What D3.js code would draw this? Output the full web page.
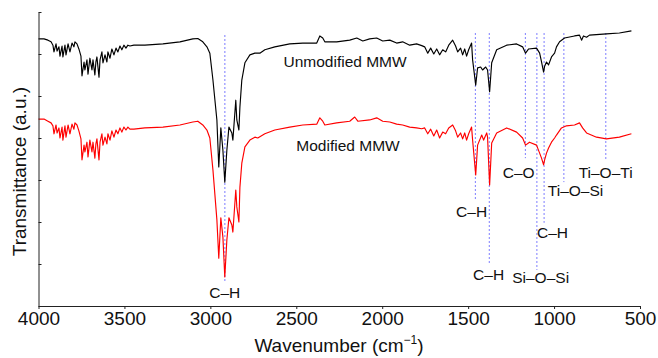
<!DOCTYPE html>
<html>
<head>
<meta charset="utf-8">
<script src="https://cdn.jsdelivr.net/npm/d3@7"></script>
<style>
  body { margin: 0; background: #fff; }
  text { font-family: "Liberation Sans", Arial, sans-serif; fill: #111; }
</style>
</head>
<body>
<svg id="chart" width="658" height="358"></svg>
<script>
// spectra: [wavenumber cm-1, transmittance a.u.]
const unmodified = [
  [4000, 63.6], [3968, 63.6], [3945, 63.3], [3927, 62.9], [3916, 62.1], [3910, 60.5], [3898, 62.4],
  [3892, 60.7], [3881, 61.7], [3875, 59.5], [3863, 61.9], [3858, 59.3], [3846, 62.1], [3840, 59.8],
  [3828, 62.4], [3817, 60.5], [3805, 62.6], [3794, 61.7], [3788, 62.9], [3776, 62.4], [3765, 61.2],
  [3753, 59.5], [3747, 54.8], [3735, 58.1], [3730, 56.2], [3718, 58.6], [3712, 55.2], [3701, 59.0],
  [3689, 56.2], [3683, 58.6], [3672, 55.0], [3666, 58.1], [3660, 59.3], [3648, 54.5], [3642, 58.6],
  [3631, 60.5], [3625, 57.9], [3613, 59.8], [3602, 58.1], [3596, 60.5], [3584, 59.0], [3573, 61.2],
  [3561, 59.8], [3549, 61.4], [3538, 60.5], [3526, 61.9], [3515, 61.0], [3503, 62.1], [3491, 61.4],
  [3480, 62.1], [3468, 61.9], [3445, 62.1], [3381, 62.1], [3276, 62.4], [3177, 62.9], [3102, 63.6],
  [3073, 63.7], [3044, 62.9], [3020, 61.7], [3003, 60.2], [2985, 53.8], [2962, 44.3], [2951, 33.1],
  [2939, 42.4], [2927, 37.1], [2916, 29.5], [2904, 37.1], [2892, 42.6], [2875, 41.2], [2869, 39.5],
  [2852, 49.0], [2846, 44.3], [2834, 41.9], [2828, 47.4], [2817, 53.8], [2799, 57.9], [2770, 59.8],
  [2741, 60.2], [2712, 60.2], [2683, 61.0], [2625, 61.7], [2538, 62.4], [2462, 62.6], [2381, 62.6],
  [2363, 64.3], [2346, 63.8], [2334, 62.9], [2265, 62.9], [2189, 63.3], [2148, 63.8], [2113, 63.1],
  [2073, 63.6], [2032, 63.8], [1997, 63.1], [1956, 63.3], [1916, 62.6], [1881, 62.9], [1840, 62.1],
  [1800, 62.4], [1770, 62.0], [1753, 61.7], [1735, 60.2], [1718, 61.4], [1700, 60.0], [1683, 61.2],
  [1666, 59.8], [1648, 61.0], [1631, 60.5], [1613, 62.1], [1590, 63.3], [1573, 61.9], [1561, 60.5],
  [1544, 61.4], [1532, 59.8], [1520, 61.2], [1509, 59.5], [1497, 61.0], [1480, 62.6], [1474, 58.6],
  [1456, 52.6], [1445, 56.7],
  [1427, 56.9], [1416, 56.2], [1398, 56.9], [1387, 56.2], [1375, 51.0], [1363, 57.9], [1334, 61.0],
  [1276, 62.1], [1218, 62.4], [1183, 61.7], [1166, 60.2], [1148, 61.2], [1102, 61.4], [1084, 60.2],
  [1073, 58.1], [1061, 55.7], [1055, 57.1], [1044, 58.1], [1032, 57.4], [1015, 59.3], [997, 60.2],
  [986, 61.7], [968, 62.9], [939, 63.8], [881, 64.3], [852, 64.5], [840, 63.3], [829, 64.3],
  [811, 64.0], [794, 64.5], [695, 64.8], [620, 65.0], [550, 65.5]
];

const modified = [
  [4000, 44.5], [3968, 44.5], [3945, 44.0], [3927, 43.6], [3916, 42.9], [3910, 41.0], [3898, 43.1],
  [3892, 41.2], [3881, 42.4], [3875, 40.0], [3863, 42.6], [3858, 39.5], [3846, 42.9], [3840, 40.2],
  [3828, 43.1], [3817, 41.0], [3805, 43.3], [3794, 42.1], [3788, 43.6], [3776, 43.1], [3765, 41.7],
  [3753, 39.8], [3747, 34.8], [3735, 38.3], [3730, 36.7], [3718, 39.0], [3712, 35.5], [3701, 39.5],
  [3689, 36.7], [3683, 39.0], [3672, 35.2], [3666, 38.6], [3660, 39.8], [3648, 34.8], [3642, 39.0],
  [3631, 41.0], [3625, 38.3], [3613, 40.2], [3602, 38.6], [3596, 41.0], [3584, 39.5], [3573, 41.7],
  [3561, 40.2], [3549, 41.9], [3538, 41.0], [3526, 42.4], [3515, 41.4], [3503, 42.6], [3491, 41.9],
  [3480, 42.6], [3468, 42.1], [3445, 42.1], [3381, 42.4], [3276, 42.6], [3177, 43.1], [3102, 43.8],
  [3073, 44.0], [3044, 43.1], [3020, 41.9], [3003, 40.0], [2985, 32.4], [2962, 20.5], [2951, 11.4],
  [2939, 21.0], [2927, 16.4], [2916, 6.9], [2904, 15.7], [2892, 21.0], [2875, 19.3], [2869, 17.6],
  [2852, 27.6], [2846, 23.6], [2834, 20.0], [2828, 28.3], [2817, 34.0], [2799, 37.9], [2770, 39.5],
  [2741, 40.2], [2724, 40.0], [2683, 41.0], [2625, 41.9], [2538, 42.6], [2462, 43.1], [2381, 43.3],
  [2363, 44.8], [2346, 44.0], [2334, 43.1], [2265, 43.6], [2189, 44.0], [2160, 45.0], [2142, 44.0],
  [2073, 44.3], [2032, 44.8], [1997, 44.0], [1956, 43.8], [1916, 43.3], [1881, 43.1], [1840, 42.6],
  [1800, 42.4], [1770, 42.2], [1753, 42.4], [1735, 41.0], [1718, 42.1], [1700, 40.5], [1683, 41.9],
  [1666, 40.0], [1648, 41.4], [1631, 41.0], [1613, 42.4], [1590, 43.1], [1573, 41.7], [1561, 40.2],
  [1544, 41.2], [1532, 39.8], [1520, 41.2], [1509, 39.5], [1497, 41.0], [1480, 42.6], [1474, 39.5],
  [1456, 31.2], [1445, 38.3], [1421, 40.7],
  [1410, 39.5], [1392, 41.2], [1387, 40.2], [1375, 28.8], [1363, 38.8], [1334, 41.2], [1276, 42.4],
  [1218, 41.4], [1183, 40.0], [1166, 38.3], [1143, 39.0], [1102, 38.3], [1084, 36.4], [1073, 35.2],
  [1061, 33.6], [1055, 34.8], [1044, 36.4], [1032, 37.6], [1015, 39.0], [997, 40.0], [986, 40.7],
  [957, 42.4], [928, 42.9], [881, 43.1], [852, 43.6], [834, 42.4], [811, 41.2], [753, 40.2],
  [695, 39.8], [620, 40.2], [550, 41.0]
];

// band assignments: wavenumber, dashed line end (a.u.), label
const bandWn = [2916, 1458, 1377, 1167, 1100, 1058, 943, 699];
const bandLow = [5.5, 25.2, 9.8, 35.2, 8.6, 19.8, 29.5, 34.8];
const bandLabel = ['C–H', 'C–H', 'C–H', 'C–O', 'Si–O–Si', 'C–H', 'Ti–O–Si', 'Ti–O–Ti'];
// where each label sits (wavenumber, a.u.)
const labelAt = [[2916, 3.1], [1480, 22.4], [1381, 7.6], [1206, 31.9], [1078, 6.9], [1009, 17.4], [875, 27.6], [700, 31.9]];

const xTicks = [4000, 3500, 3000, 2500, 2000, 1500, 1000, 500];
const yTicks = [0, 10, 20, 30, 40, 50, 60, 70];

const svg = d3.select('#chart');

const x = d3.scaleLinear().domain([4000, 500]).range([38.5, 640]);
const y = d3.scaleLinear().domain([0, 70]).range([306, 12]);

// dashed band markers
svg.append('g')
    .selectAll('line')
    .data(bandWn)
    .join('line')
    .attr('x1', d => x(d))
    .attr('x2', d => x(d))
    .attr('y1', (d, i) => y(i === 0 ? 64.5 : 65))
    .attr('y2', (d, i) => y(bandLow[i]))
    .attr('stroke', (d, i) => i === 0 ? '#a8a8ff' : '#6f6fff')
    .attr('stroke-width', (d, i) => i === 0 ? 1.5 : 0.9)
    .attr('stroke-dasharray', '2,2');

const line = d3.line()
    .x(d => x(d[0]))
    .y(d => y(d[1]));

svg.append('path')
    .datum(unmodified)
    .attr('fill', 'none')
    .attr('stroke', '#000')
    .attr('stroke-width', 1.15)
    .attr('stroke-linejoin', 'round')
    .attr('d', line);

svg.append('path')
    .datum(modified)
    .attr('fill', 'none')
    .attr('stroke', '#ff0000')
    .attr('stroke-width', 1.15)
    .attr('stroke-linejoin', 'round')
    .attr('d', line);

// axes
const xAxis = svg.append('g')
    .attr('transform', `translate(0,${y(0)})`)
    .call(d3.axisBottom(x).tickValues(xTicks).tickSizeInner(3).tickSizeOuter(0).tickPadding(3).tickFormat(d3.format('d')));
xAxis.selectAll('text').attr('font-size', 19).attr('fill', '#111');

const yAxis = svg.append('g')
    .attr('transform', `translate(${x(4000)},0)`)
    .call(d3.axisLeft(y).tickValues(yTicks).tickSizeInner(-3).tickSizeOuter(0).tickFormat(''));

svg.selectAll('.domain, .tick line').attr('stroke', '#222').attr('stroke-width', 1);

// axis titles
svg.append('text')
    .attr('transform', `translate(19,${y(32)}) rotate(-90)`)
    .attr('text-anchor', 'middle')
    .attr('dominant-baseline', 'central')
    .attr('font-size', 19)
    .text('Transmittance (a.u.)');

const xt = svg.append('text')
    .attr('x', 339)
    .attr('y', 352)
    .attr('text-anchor', 'middle')
    .attr('font-size', 19);
xt.append('tspan').text('Wavenumber (cm');
xt.append('tspan').attr('dy', -8).attr('font-size', 12).text('−1');
xt.append('tspan').attr('dy', 8).text(')');

// series labels
svg.append('text')
    .attr('x', x(2216)).attr('y', y(58.2))
    .attr('text-anchor', 'middle').attr('dominant-baseline', 'central')
    .attr('font-size', 15.5)
    .text('Unmodified MMW');
svg.append('text')
    .attr('x', x(2199)).attr('y', y(38.3))
    .attr('text-anchor', 'middle').attr('dominant-baseline', 'central')
    .attr('font-size', 15.5)
    .text('Modified MMW');

// band labels
svg.append('g')
    .selectAll('text')
    .data(bandLabel)
    .join('text')
    .attr('x', (d, i) => x(labelAt[i][0]))
    .attr('y', (d, i) => y(labelAt[i][1]))
    .attr('text-anchor', 'middle')
    .attr('dominant-baseline', 'central')
    .attr('font-size', 15.5)
    .text(d => d);
</script>
</body>
</html>
